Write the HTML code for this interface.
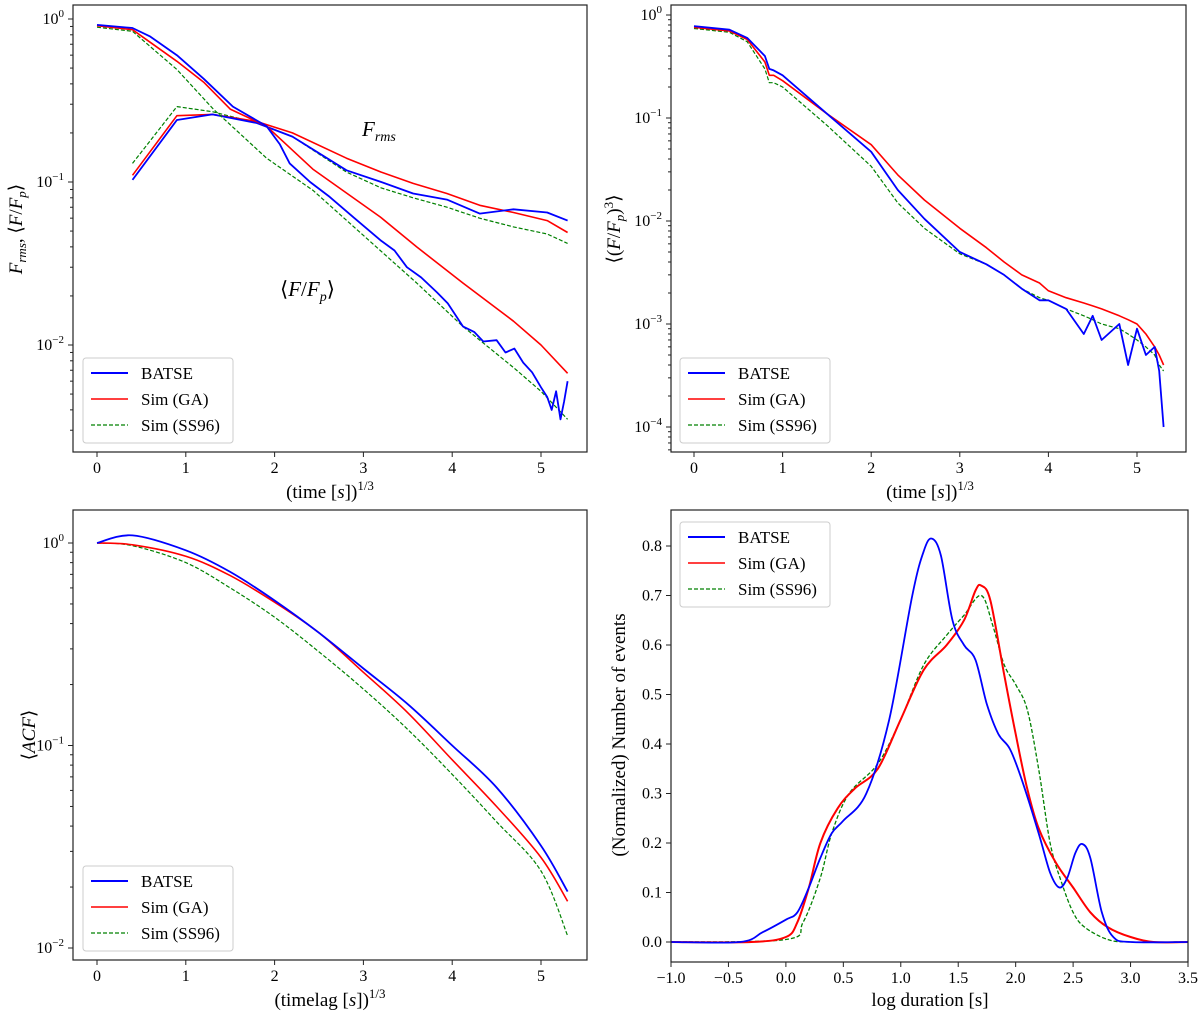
<!DOCTYPE html>
<html><head><meta charset="utf-8"><style>
body{margin:0;background:#fff}
svg{display:block;font-family:"Liberation Serif",serif}
</style></head><body>
<svg id="fig" width="1200" height="1018" viewBox="0 0 1200 1018" xmlns="http://www.w3.org/2000/svg"></svg>
<script>
// ---------- Panel 1 data ----------
const p1MeanBatseX = [0,0.4,0.6,0.9,1.2,1.53,1.91,2.06,2.17,2.4,2.62,2.9,3.19,3.35,3.49,3.65,3.83,3.95,4.12,4.25,4.35,4.5,4.6,4.7,4.8,4.9,5.0,5.07,5.12,5.17,5.22,5.26,5.3];
const p1MeanBatse = [0.92,0.88,0.78,0.60,0.43,0.29,0.22,0.17,0.13,0.10,0.081,0.060,0.044,0.038,0.030,0.026,0.021,0.018,0.013,0.012,0.0105,0.0107,0.009,0.0095,0.0078,0.0068,0.0055,0.0048,0.0040,0.0052,0.0035,0.0045,0.0060];
const p1MeanGAX = [0,0.4,0.9,1.2,1.5,1.91,2.43,3.19,3.6,4.12,4.69,5.0,5.3];
const p1MeanGA = [0.91,0.86,0.55,0.41,0.28,0.22,0.12,0.061,0.040,0.024,0.014,0.010,0.0067];
const p1MeanSSX = [0,0.4,0.9,1.31,1.91,2.43,3.19,3.6,4.12,4.7,5.0,5.3];
const p1MeanSS = [0.89,0.84,0.49,0.28,0.14,0.089,0.038,0.024,0.013,0.0072,0.0052,0.0035];
const p1RmsX = [0.4,0.9,1.3,1.8,2.2,2.81,3.2,3.56,3.94,4.31,4.69,5.07,5.3];
const p1RmsBatse = [0.103,0.24,0.26,0.23,0.19,0.118,0.10,0.085,0.078,0.064,0.068,0.065,0.058];
const p1RmsGA = [0.11,0.255,0.26,0.235,0.20,0.14,0.115,0.098,0.085,0.072,0.065,0.058,0.049];
const p1RmsSS = [0.13,0.29,0.27,0.23,0.19,0.115,0.092,0.08,0.07,0.06,0.053,0.048,0.042];
// ---------- Panel 2 data ----------
const p2X = [0,0.4,0.6,0.8,0.85,0.9,1.0,1.5,2.0,2.3,2.6,3.0,3.3,3.5,3.7,3.9,4.0,4.2,4.4,4.5,4.6,4.8,4.9,5.0,5.1,5.2,5.25,5.3];
const p2Batse = [0.78,0.72,0.6,0.40,0.30,0.29,0.26,0.11,0.047,0.020,0.0105,0.005,0.0038,0.003,0.0022,0.0017,0.0017,0.0014,0.0008,0.0012,0.0007,0.001,0.0004,0.0009,0.0005,0.0006,0.00035,0.0001];
const p2GA = [0.76,0.70,0.58,0.35,0.26,0.26,0.23,0.11,0.055,0.028,0.016,0.0085,0.0055,0.004,0.003,0.0025,0.0021,0.0018,0.0016,0.0015,0.0014,0.0012,0.0011,0.001,0.0008,0.0006,0.0005,0.0004];
const p2SS = [0.74,0.68,0.55,0.30,0.22,0.22,0.20,0.085,0.034,0.015,0.0085,0.0048,0.0038,0.003,0.0022,0.0018,0.0017,0.0014,0.0012,0.0011,0.001,0.0009,0.0008,0.0007,0.0006,0.0005,0.0004,0.00035];
// ---------- Panel 3 data ----------
const p3X = [0,0.4,1.0,1.5,2.0,2.5,3.0,3.5,4.0,4.5,5.0,5.3];
const p3Batse = [1.0,1.09,0.92,0.72,0.52,0.36,0.24,0.16,0.10,0.062,0.032,0.019];
const p3GA = [1.0,0.98,0.86,0.69,0.51,0.36,0.23,0.145,0.085,0.05,0.028,0.017];
const p3SS = [1.0,0.97,0.80,0.60,0.43,0.29,0.19,0.12,0.072,0.042,0.024,0.0115];
// ---------- Panel 4 data ----------
const p4BatseX = [-1,-0.4,-0.2,0,0.1,0.2,0.3,0.4,0.5,0.7,0.9,1.1,1.2,1.27,1.35,1.45,1.55,1.65,1.75,1.85,1.95,2.05,2.2,2.3,2.38,2.45,2.52,2.58,2.65,2.75,2.85,3.0,3.5];
const p4Batse = [0,0,0.02,0.045,0.06,0.11,0.17,0.22,0.245,0.30,0.45,0.70,0.79,0.815,0.78,0.65,0.60,0.57,0.48,0.42,0.39,0.33,0.22,0.14,0.11,0.13,0.18,0.198,0.17,0.06,0.01,0,0];
const p4GAX = [-1,-0.3,0,0.1,0.2,0.3,0.45,0.6,0.8,1.0,1.2,1.4,1.55,1.65,1.7,1.78,1.9,2.0,2.1,2.2,2.35,2.5,2.65,2.8,3.0,3.2,3.5];
const p4GA = [0,0,0.01,0.04,0.11,0.2,0.27,0.31,0.35,0.45,0.55,0.6,0.65,0.71,0.72,0.69,0.54,0.42,0.31,0.23,0.16,0.11,0.06,0.03,0.01,0,0];
const p4SSX = [-1,0,0.15,0.3,0.4,0.55,0.8,1.0,1.2,1.4,1.55,1.7,1.8,1.9,2.0,2.1,2.2,2.3,2.4,2.5,2.6,2.8,3.0,3.5];
const p4SS = [0,0.005,0.04,0.13,0.22,0.3,0.36,0.45,0.56,0.62,0.66,0.70,0.64,0.56,0.52,0.47,0.35,0.2,0.12,0.06,0.03,0.005,0,0];
const p4Ticks = [-1.0,-0.5,0.0,0.5,1.0,1.5,2.0,2.5,3.0,3.5];
const p4YTicks = [0.0,0.1,0.2,0.3,0.4,0.5,0.6,0.7,0.8];
const timeTicks = [0,1,2,3,4,5];

const NS='http://www.w3.org/2000/svg';
const svg=document.getElementById('fig');
function el(tag,attrs,parent,text){const e=document.createElementNS(NS,tag);for(const k in attrs)e.setAttribute(k,attrs[k]);if(text!==undefined)e.textContent=text;(parent||svg).appendChild(e);return e;}
function linScale(d0,d1,r0,r1){return v=>r0+(v-d0)/(d1-d0)*(r1-r0);}
function logScale(d0,d1,r0,r1){return v=>r0+(Math.log10(v)-d0)/(d1-d0)*(r1-r0);}
function frame(g,b){
  const r=el('rect',{x:b.l,y:b.t,width:b.r-b.l,height:b.b-b.t,fill:'none',stroke:'#222','stroke-width':1.2},g);
  
  
}
function xTicks(g,b,xs,ticks,fmt){
  ticks.forEach(t=>{const x=xs(t);
    el('line',{x1:x,x2:x,y1:b.b,y2:b.b+5,stroke:'#222'},g);
    const tx=el('text',{x:x,y:b.b+21,'text-anchor':'middle','font-size':16},g,fmt(t));
    
    
  });
}
function logYTicks(g,b,ys,dmin,dmax){
  for(let d=dmin;d<=dmax;d++){
    for(let m=1;m<10;m++){const v=m*Math.pow(10,d);const y=ys(v);
      if(y<b.t-0.5||y>b.b+0.5)continue;
      el('line',{x1:b.l-(m===1?5:3),x2:b.l,y1:y,y2:y,stroke:'#222'},g);
      if(m===1){const tx=el('text',{x:b.l-9,y:y+5,'text-anchor':'end','font-size':16},g);
        
        
        el('tspan',{},tx,'10');el('tspan',{dy:-7,'font-size':11},tx,d===0?'0':'\u2212'+(-d));}
    }
  }
}
function line(g,xs,ys,X,Y,color,dash,w,name,smooth){
  const P=X.map((x,i)=>[xs(x),ys(Y[i])]);
  let d='M'+P[0][0].toFixed(1)+','+P[0][1].toFixed(1);
  for(let i=0;i<P.length-1;i++){
    if(smooth){
      const p0=P[Math.max(0,i-1)],p1=P[i],p2=P[i+1],p3=P[Math.min(P.length-1,i+2)];
      const c1=[p1[0]+(p2[0]-p0[0])/6,p1[1]+(p2[1]-p0[1])/6];
      const c2=[p2[0]-(p3[0]-p1[0])/6,p2[1]-(p3[1]-p1[1])/6];
      d+=' C'+c1[0].toFixed(1)+','+c1[1].toFixed(1)+' '+c2[0].toFixed(1)+','+c2[1].toFixed(1)+' '+p2[0].toFixed(1)+','+p2[1].toFixed(1);
    } else d+=' L'+P[i+1][0].toFixed(1)+','+P[i+1][1].toFixed(1);
  }
  const pl=el('path',{d:d,fill:'none',stroke:color,'stroke-width':w,'stroke-dasharray':dash?'4,2':'none','stroke-linejoin':'round'},g);
  
  
}
function legend(g,x,y){
  const lg=el('g',{},g);
  
  
  el('rect',{x:x,y:y,width:150,height:85,rx:3,fill:'#fff',stroke:'#ccc'},lg);
  const items=[['BATSE','#0000ff',false,2],['Sim (GA)','#ff0000',false,1.6],['Sim (SS96)','#008000',true,1.2]];
  items.forEach((it,i)=>{const yy=y+15+i*26;
    const e=el('g',{},lg);
    
    
    el('line',{x1:x+8,x2:x+45,y1:yy,y2:yy,stroke:it[1],'stroke-width':it[3],'stroke-dasharray':it[2]?'4,2':'none'},e);
    el('text',{x:x+58,y:yy+6,'font-size':17},e,it[0]);
  });
}
function ylabel(g,x,y,html,name){
  const t=el('text',{x:0,y:0,transform:`translate(${x},${y}) rotate(-90)`,'text-anchor':'middle','font-size':19},g);
  t.innerHTML=html;
  
  
}
function xlabel(g,x,y,html,name){
  const t=el('text',{x:x,y:y,'text-anchor':'middle','font-size':19},g);
  t.innerHTML=html;
  
  
}
const fmtInt=t=>String(t);
const timeLab='(time [<tspan font-style="italic">s</tspan>])<tspan dy="-8" font-size="13">1/3</tspan>';

// ---------- Panel 1 ----------
{const g=el('g',{});
 const b={l:73,r:587,t:5,b:452};
 const xs=linScale(0,5,97,541), ys=logScale(0,-1,19,182);
 line(g,xs,ys,p1RmsX,p1RmsSS,'#008000',true,1.2,'rms-ss96-line');
 line(g,xs,ys,p1RmsX,p1RmsGA,'#ff0000',false,1.6,'rms-ga-line');
 line(g,xs,ys,p1RmsX,p1RmsBatse,'#0000ff',false,1.8,'rms-batse-line');
 line(g,xs,ys,p1MeanSSX,p1MeanSS,'#008000',true,1.2,'mean-ss96-line');
 line(g,xs,ys,p1MeanGAX,p1MeanGA,'#ff0000',false,1.6,'mean-ga-line');
 line(g,xs,ys,p1MeanBatseX,p1MeanBatse,'#0000ff',false,1.8,'mean-batse-line');
 frame(g,b);xTicks(g,b,xs,timeTicks,fmtInt);logYTicks(g,b,ys,-3,0);
 legend(g,83,358);
 xlabel(g,330,498,timeLab,'x-axis-title');
 ylabel(g,22,229,'<tspan font-style="italic">F</tspan><tspan font-size="13" font-style="italic" dy="4">rms</tspan><tspan dy="-4">,  ⟨<tspan font-style="italic">F</tspan>/<tspan font-style="italic">F</tspan></tspan><tspan font-size="13" font-style="italic" dy="4">p</tspan><tspan dy="-4">⟩</tspan>','y-axis-title');
 let a=el('text',{x:362,y:136,'font-size':21,'font-style':'italic'},g);a.innerHTML='F<tspan font-size="14" dy="5">rms</tspan>';
 
 a=el('text',{x:280,y:296,'font-size':21},g);a.innerHTML='⟨<tspan font-style="italic">F</tspan>/<tspan font-style="italic">F</tspan><tspan font-size="14" font-style="italic" dy="5">p</tspan><tspan dy="-5">⟩</tspan>';
 
}
// ---------- Panel 2 ----------
{const g=el('g',{});
 const b={l:671,r:1186,t:5,b:452};
 const xs=linScale(0,5,694,1137), ys=logScale(0,-4,15,427);
 line(g,xs,ys,p2X,p2SS,'#008000',true,1.2,'ss96-line');
 line(g,xs,ys,p2X,p2GA,'#ff0000',false,1.6,'ga-line');
 line(g,xs,ys,p2X,p2Batse,'#0000ff',false,1.8,'batse-line');
 frame(g,b);xTicks(g,b,xs,timeTicks,fmtInt);logYTicks(g,b,ys,-5,0);
 legend(g,680,358);
 xlabel(g,930,498,timeLab,'x-axis-title');
 ylabel(g,620,229,'⟨(<tspan font-style="italic">F</tspan>/<tspan font-style="italic">F</tspan><tspan font-size="13" font-style="italic" dy="4">p</tspan><tspan dy="-4">)</tspan><tspan font-size="13" dy="-7">3</tspan><tspan dy="7">⟩</tspan>','y-axis-title');
}
// ---------- Panel 3 ----------
{const g=el('g',{});
 const b={l:73,r:587,t:510,b:960};
 const xs=linScale(0,5,97,541), ys=logScale(0,-2,543,948);
 line(g,xs,ys,p3X,p3SS,'#008000',true,1.2,'ss96-line',true);
 line(g,xs,ys,p3X,p3GA,'#ff0000',false,1.6,'ga-line',true);
 line(g,xs,ys,p3X,p3Batse,'#0000ff',false,1.8,'batse-line',true);
 frame(g,b);xTicks(g,b,xs,timeTicks,fmtInt);logYTicks(g,b,ys,-2,0);
 legend(g,83,866);
 xlabel(g,330,1006,'(timelag [<tspan font-style="italic">s</tspan>])<tspan dy="-8" font-size="13">1/3</tspan>','x-axis-title');
 ylabel(g,35,735,'⟨<tspan font-style="italic">ACF</tspan>⟩','y-axis-title');
}
// ---------- Panel 4 ----------
{const g=el('g',{});
 const b={l:671,r:1188,t:510,b:962};
 const xs=linScale(-1,3.5,671,1188), ys=linScale(0,0.8,942,546);
 line(g,xs,ys,p4SSX,p4SS,'#008000',true,1.3,'ss96-line',true);
 line(g,xs,ys,p4GAX,p4GA,'#ff0000',false,2,'ga-line',true);
 line(g,xs,ys,p4BatseX,p4Batse,'#0000ff',false,1.8,'batse-line',true);
 frame(g,b);
 xTicks(g,b,xs,p4Ticks,t=>(t<0?'\u2212':'')+Math.abs(t).toFixed(1));
 p4YTicks.forEach(t=>{const y=ys(t);el('line',{x1:b.l-5,x2:b.l,y1:y,y2:y,stroke:'#222'},g);
   const tx=el('text',{x:b.l-9,y:y+5,'text-anchor':'end','font-size':16},g,t.toFixed(1));
   });
 legend(g,680,522);
 xlabel(g,930,1006,'log duration [s]','x-axis-title');
 ylabel(g,625,735,'(Normalized) Number of events','y-axis-title');
}
</script>
</body></html>
